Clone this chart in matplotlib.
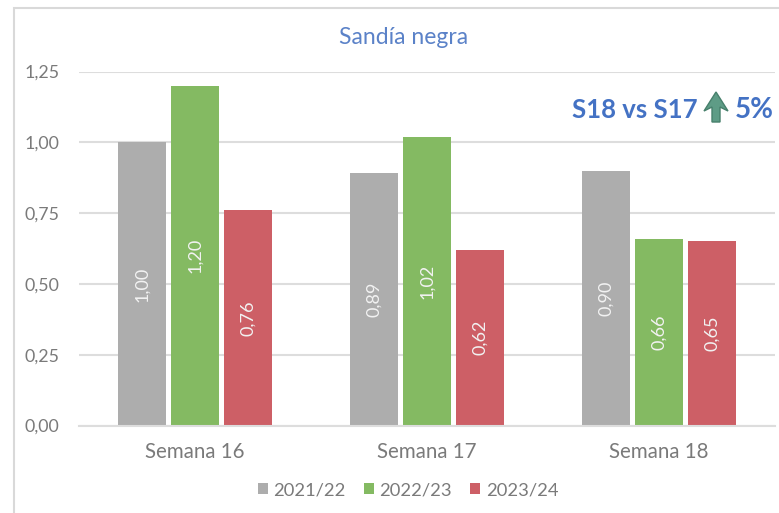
import numpy as np
import matplotlib
matplotlib.use("Agg")
import matplotlib.pyplot as plt
from matplotlib.patches import Polygon, Rectangle

plt.rcParams["font.family"] = ["Lato", "DejaVu Sans"]

weeks = ["Semana 16", "Semana 17", "Semana 18"]
seasons = ["2021/22", "2022/23", "2023/24"]
colors = ["#ADADAD", "#84BA62", "#CD5F66"]
values_2122 = [1.00, 0.89, 0.90]
values_2223 = [1.20, 1.02, 0.66]
values_2324 = [0.76, 0.62, 0.65]
y_ticks = [0.0, 0.25, 0.5, 0.75, 1.0, 1.25]

W, H = 779, 513
fig = plt.figure(figsize=(W / 100, H / 100), dpi=100, facecolor="white")

# axes placed to match the pixel positions of the gridlines
ax = fig.add_axes([79 / W, 1 - 425.5 / H, 696 / W, 354 / H])

bar_w = 0.208
offsets = [-0.229, 0, 0.229]
x = np.arange(len(weeks))
series = [values_2122, values_2223, values_2324]

for vals, off, col, name in zip(series, offsets, colors, seasons):
    bars = ax.bar(x + off, vals, bar_w, color=col, label=name, zorder=3)
    for b, v in zip(bars, vals):
        ax.text(b.get_x() + b.get_width() / 2, v / 2, f"{v:.2f}".replace(".", ","),
                rotation=90, ha="center", va="center", color="#F2F2F2",
                fontsize=13, zorder=4)

ax.set_xlim(-0.5, 2.5)
ax.set_ylim(0, 1.25)
ax.set_xticks(x)
ax.set_xticklabels(weeks, fontsize=14.8)
ax.set_yticks(y_ticks)
ax.set_yticklabels([f"{t:.2f}".replace(".", ",") for t in y_ticks], fontsize=12.8)
ax.tick_params(axis="both", length=0, colors="#7A7A7A")
ax.tick_params(axis="x", pad=12)
ax.tick_params(axis="y", pad=14)
ax.grid(axis="y", color="#DDDDDD", linewidth=1.5, zorder=0)
ax.set_axisbelow(True)
for s in ["top", "right", "left"]:
    ax.spines[s].set_visible(False)
ax.spines["bottom"].set_color("#DDDDDD")
ax.spines["bottom"].set_linewidth(1.5)
ax.spines["bottom"].set_zorder(5)

fig.text(404 / W, 1 - 37 / H, "Sandía negra", color="#5B82C8", fontsize=16.5,
         ha="center", va="center")

leg = fig.legend(loc="center", bbox_to_anchor=(408 / W, 1 - 490 / H), ncol=3, frameon=False,
                 fontsize=13.2, handlelength=0.55, handleheight=0.55, handletextpad=0.3,
                 columnspacing=1.0, labelcolor="#7A7A7A")

# callout text and arrow
fig.text(572 / W, 1 - 110 / H, "S18 vs S17", color="#4472C4", fontsize=18.5,
         fontweight="bold", ha="left", va="center")
fig.text(774 / W, 1 - 110 / H, "5%", color="#4472C4", fontsize=20,
         fontweight="bold", ha="right", va="center")
arrow_px = [(716, 92), (728, 111), (720, 107), (720, 122), (712, 122), (712, 107), (704, 111)]
fig.add_artist(Polygon([(px / W, 1 - py / H) for px, py in arrow_px], closed=True,
                       transform=fig.transFigure, facecolor="#5E9C86", edgecolor="#47806C",
                       linewidth=1))

# outer chart border, open on the right and bottom edges of the crop
fig.add_artist(Rectangle((14 / W, -0.01), 900 / W, 1 - 8 / H + 0.01, transform=fig.transFigure,
                         fill=False, edgecolor="#D9D9D9", linewidth=1.5))

fig.savefig("out.png", dpi=100)
